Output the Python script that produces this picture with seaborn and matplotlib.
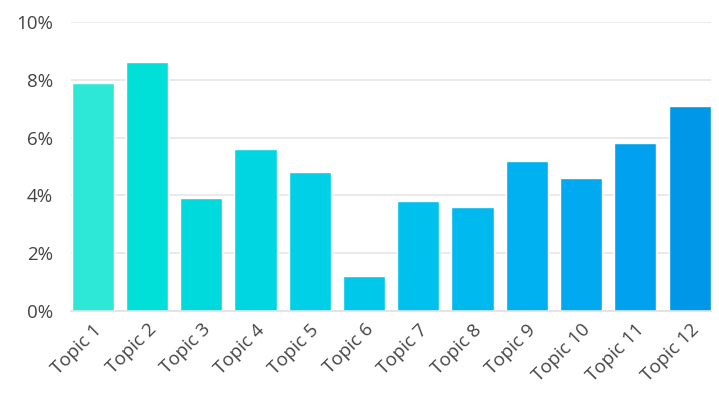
import numpy as np
import pandas as pd
import matplotlib.pyplot as plt
import seaborn as sns
from matplotlib.ticker import FuncFormatter

sns.set_style("white")
plt.rcParams['font.family'] = ['Open Sans', 'DejaVu Sans']

# data (percent)
topics = ["Topic 1", "Topic 2", "Topic 3", "Topic 4", "Topic 5", "Topic 6",
          "Topic 7", "Topic 8", "Topic 9", "Topic 10", "Topic 11", "Topic 12"]
share = [7.9, 8.6, 3.9, 5.6, 4.8, 1.2, 3.8, 3.6, 5.2, 4.6, 5.8, 7.1]
bar_colors = ["#2de8d6", "#00e0d8", "#00dadc", "#00d5e2", "#00cfe8", "#00c8ea",
              "#00c1ed", "#00b9ef", "#00b1f1", "#00a9f0", "#00a1ee", "#0097e8"]

df = pd.DataFrame({"topic": topics, "share": share})

fig = plt.figure(figsize=(7.19, 3.94), dpi=100)
ax = fig.add_axes([0.099, 0.211, 0.890, 0.733])

bw = 0.775
sns.barplot(data=df, x="topic", y="share", hue="topic", palette=bar_colors,
            legend=False, width=bw, saturation=1, ax=ax)

ax.set_ylim(0, 10)
ax.set_xlim(-bw / 2 - 0.01, len(topics) - 1 + bw / 2 + 0.01)
ax.set_yticks([0, 2, 4, 6, 8, 10])
ax.yaxis.set_major_formatter(FuncFormatter(lambda v, p: f"{v:.0f}%"))
ax.grid(axis="y", color="#e6e6e6", linewidth=1.2)
ax.set_axisbelow(True)
for s in ["top", "right", "left"]:
    ax.spines[s].set_visible(False)
ax.spines["bottom"].set_color("#e0e0e0")
ax.spines["bottom"].set_linewidth(1.2)
ax.set_xlabel("")
ax.set_ylabel("")
ax.tick_params(axis="both", length=0, labelsize=13.5, labelcolor="#444444")
ax.tick_params(axis="y", pad=13)
ax.tick_params(axis="x", pad=7)
plt.setp(ax.get_xticklabels(), rotation=45, ha="right", rotation_mode="anchor")

fig.savefig("out.png", dpi=100)
